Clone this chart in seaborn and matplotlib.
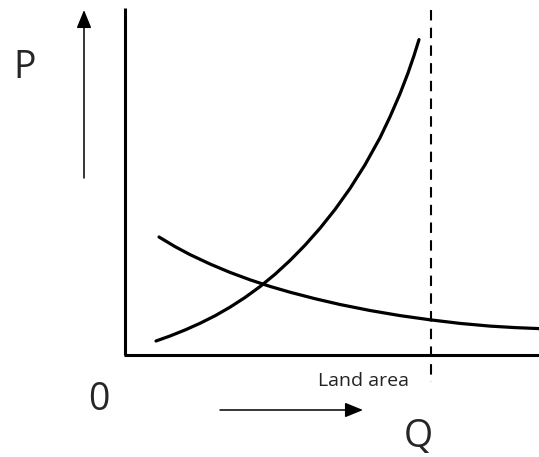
import matplotlib
matplotlib.use("Agg")
import matplotlib.pyplot as plt
import seaborn as sns
import pandas as pd

# curve points (pixel-like coordinates, y grows downward)
rising_x = [156, 170, 185, 200, 215, 230, 245, 260, 275, 290, 305,
            320, 335, 350, 365, 380, 390, 400, 408, 414, 419]
rising_y = [341, 336, 330, 323.3, 315.8, 307.2, 297.5, 286.6, 274.3, 260.5, 245.2,
            228.3, 209.5, 188.5, 164.8, 137.8, 116.8, 93.8, 73, 55.6, 39.6]
falling_x = [159, 175, 190, 210, 230, 250, 270, 290, 315, 340, 370,
             400, 430, 460, 490, 515, 539]
falling_y = [237, 246.6, 254.6, 264, 272.4, 279.8, 286.4, 292.2, 298.7, 304.5, 310.5,
             315.6, 319.8, 323.4, 326.1, 327.6, 328.6]

land_area_x = 431
axis_origin = (125, 355)

sns.set_style("white")
plt.rcParams['font.family'] = ['Open Sans', 'DejaVu Sans']

fig = plt.figure(figsize=(5.39, 4.57), dpi=100)
ax = fig.add_axes([0, 0, 1, 1])
ax.set_xlim(0, 539)
ax.set_ylim(457, 0)
ax.axis('off')

curves = pd.concat([
    pd.DataFrame({'x': rising_x, 'y': rising_y, 'curve': 'rising'}),
    pd.DataFrame({'x': falling_x, 'y': falling_y, 'curve': 'falling'}),
])
for name, grp in curves.groupby('curve'):
    sns.lineplot(data=grp, x='x', y='y', ax=ax, color='black', lw=2.3,
                 sort=False, estimator=None)

# axes lines
ox, oy = axis_origin
ax.plot([ox, ox], [8, oy], color='black', lw=2.2, solid_capstyle='butt')
ax.plot([ox - 1, 539], [oy, oy], color='black', lw=2.2, solid_capstyle='butt')

# land area boundary
ax.plot([land_area_x, land_area_x], [10, 382], color='black', lw=1.5,
        linestyle=(0, (5, 3.5)))

# direction arrows
ax.annotate('', xy=(84, 10), xytext=(84, 178),
            arrowprops=dict(arrowstyle='-|>,head_length=1.1,head_width=0.45',
                            color='black', lw=1.1, shrinkA=0, shrinkB=0))
ax.annotate('', xy=(363, 410), xytext=(220, 410),
            arrowprops=dict(arrowstyle='-|>,head_length=1.1,head_width=0.45',
                            color='black', lw=1.1, shrinkA=0, shrinkB=0))

ax.text(25, 68, 'P', fontsize=27, ha='center', va='center')
ax.text(99, 400, '0', fontsize=27, ha='center', va='center')
ax.text(418, 437, 'Q', fontsize=27, ha='center', va='center')
ax.text(364, 381, 'Land area', fontsize=14, ha='center', va='center', color='#222222')

ax.set_xlabel('')
ax.set_ylabel('')
fig.savefig('out.png', dpi=100)
